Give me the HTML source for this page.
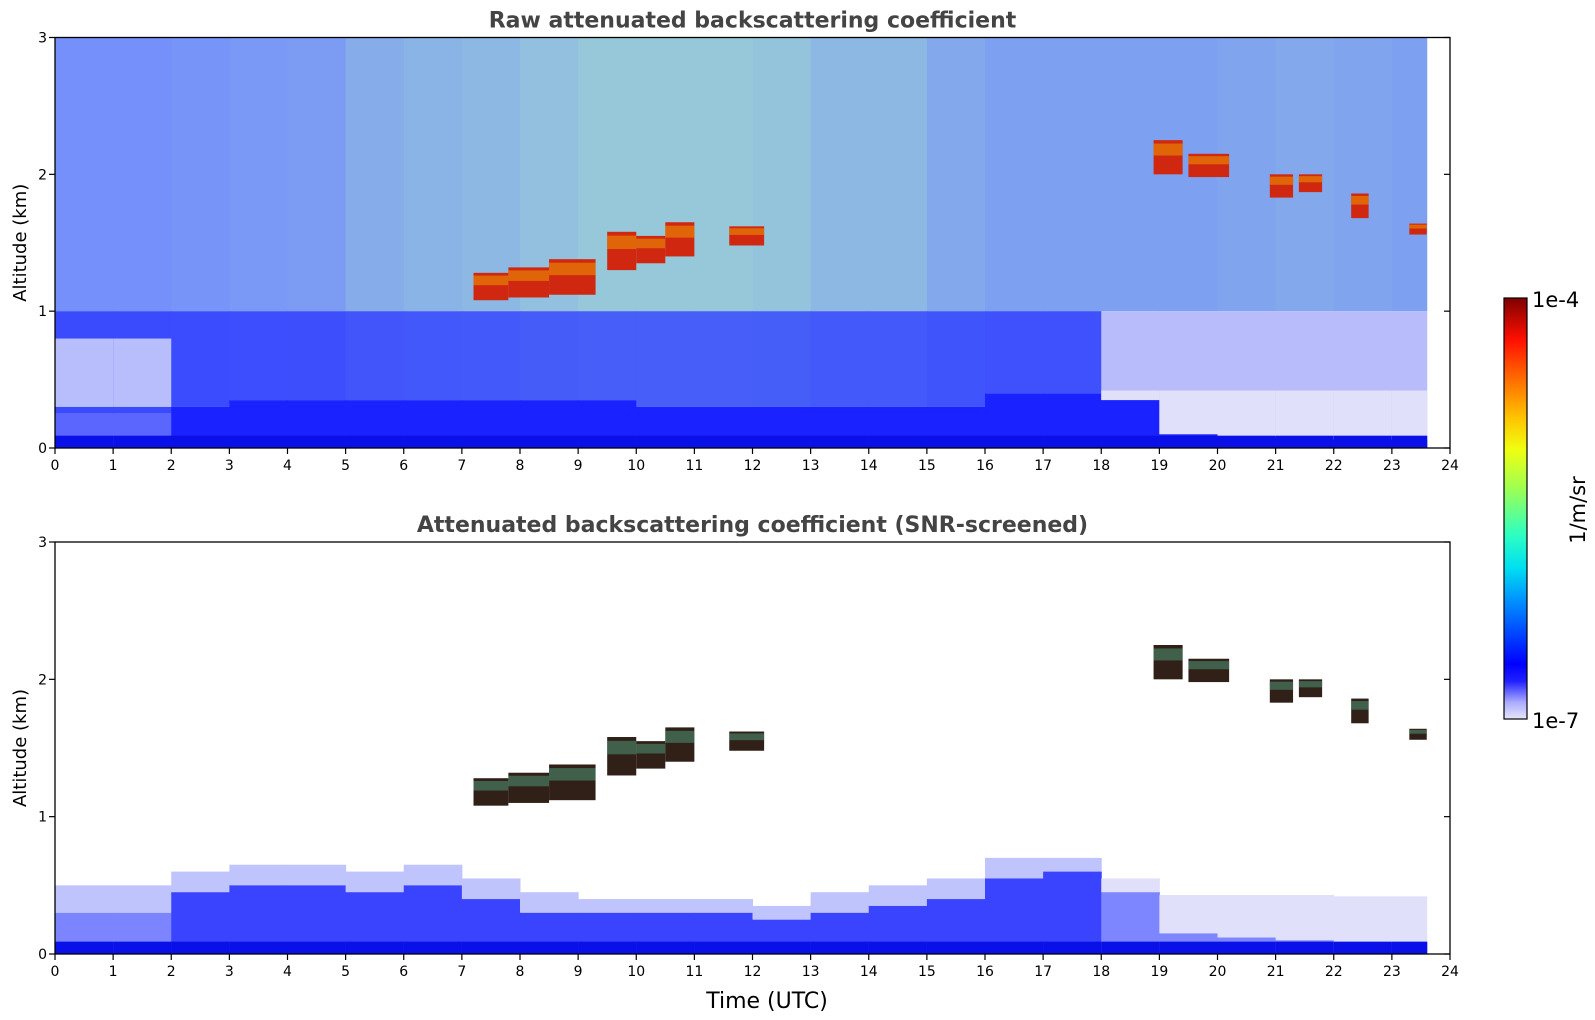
<!DOCTYPE html>
<html><head><meta charset="utf-8">
<style>
html,body{margin:0;padding:0;background:#fff;}
svg{display:block;font-family:"DejaVu Sans","Liberation Sans",sans-serif;}
</style></head>
<body>
<svg id="fig" width="1595" height="1020" viewBox="0 0 1595 1020" xmlns="http://www.w3.org/2000/svg">
<defs>
  <clipPath id="clipTop"><rect x="55" y="37.5" width="1395" height="410.5"/></clipPath>
  <clipPath id="clipBot"><rect x="55" y="542" width="1395" height="412"/></clipPath>
  <linearGradient id="cbGrad" x1="0" y1="1" x2="0" y2="0">
    <stop offset="0" stop-color="#e6e6fa"/>
    <stop offset="0.04" stop-color="#aaaaff"/>
    <stop offset="0.09" stop-color="#2020ff"/>
    <stop offset="0.13" stop-color="#0000ff"/>
    <stop offset="0.28" stop-color="#0090ff"/>
    <stop offset="0.36" stop-color="#00e0f0"/>
    <stop offset="0.44" stop-color="#30ffc0"/>
    <stop offset="0.55" stop-color="#a0ff50"/>
    <stop offset="0.64" stop-color="#f0ff10"/>
    <stop offset="0.72" stop-color="#ffc000"/>
    <stop offset="0.82" stop-color="#ff6000"/>
    <stop offset="0.9" stop-color="#ff1000"/>
    <stop offset="1" stop-color="#800000"/>
  </linearGradient>
</defs>
<g id="top"></g>
<g id="bot"></g>
<g id="cb">
  <rect x="1504" y="298" width="23" height="421" fill="url(#cbGrad)" stroke="#000" stroke-width="1.2"/>
  <text x="1532" y="307" font-size="21">1e-4</text>
  <text x="1532" y="728" font-size="21">1e-7</text>
  <text transform="translate(1585,510) rotate(-90)" text-anchor="middle" font-size="21">1/m/sr</text>
</g>
</svg>
<script>
// ---- data ----
const hours = [0,1,2,3,4,5,6,7,8,9,10,11,12,13,14,15,16,17,18,19,20,21,22,23];
const rawDenseTop = [0.25,0.25,0.3,0.35,0.35,0.35,0.35,0.35,0.35,0.35,0.3,0.3,0.3,0.3,0.3,0.3,0.4,0.4,0.35,0.1,0.08,0.08,0.06,0.06];
const rawUpperLevel = [0.1,0.1,0.15,0.2,0.25,0.45,0.55,0.6,0.7,0.8,0.8,0.8,0.75,0.6,0.6,0.4,0.3,0.3,0.3,0.3,0.35,0.4,0.35,0.3];
const blTop = [0.3,0.3,0.45,0.5,0.5,0.45,0.5,0.4,0.3,0.3,0.3,0.3,0.25,0.3,0.35,0.4,0.55,0.6,0.45,0.15,0.12,0.1,0.08,0.08];
const fringeTop = [0.5,0.5,0.6,0.65,0.65,0.6,0.65,0.55,0.45,0.4,0.4,0.4,0.35,0.45,0.5,0.55,0.7,0.7,0.55,0.43,0.43,0.43,0.42,0.42];
const cloudStart = [7.2,7.8,8.5,9.5,10.0,10.5,11.6,18.9,19.5,20.9,21.4,22.3,23.3];
const cloudEnd   = [7.8,8.5,9.3,10.0,10.5,11.0,12.2,19.4,20.2,21.3,21.8,22.6,23.6];
const cloudBase  = [1.08,1.1,1.12,1.3,1.35,1.4,1.48,2.0,1.98,1.83,1.87,1.68,1.56];
const cloudTopA  = [1.28,1.32,1.38,1.58,1.55,1.65,1.62,2.25,2.15,2.0,2.0,1.86,1.64];
const xTicks = [0,1,2,3,4,5,6,7,8,9,10,11,12,13,14,15,16,17,18,19,20,21,22,23,24];
const yTicks = [0,1,2,3];
const dataEnd = 23.6;

const NS = 'http://www.w3.org/2000/svg';
const X0 = 55, X1 = 1450;
const xs = h => X0 + (X1 - X0) * h / 24;
function mk(parent, tag, attrs){ const e=document.createElementNS(NS,tag); for(const k in attrs) e.setAttribute(k,attrs[k]); parent.appendChild(e); return e; }
function mix(a,b,t){ const p=s=>[1,3,5].map(i=>parseInt(s.substr(i,2),16)); const A=p(a),B=p(b); return 'rgb('+A.map((v,i)=>Math.round(v+(B[i]-v)*t)).join(',')+')'; }

function panel(gid, yTop, yBot, clip, title, raw){
  const g = document.getElementById(gid);
  const ys = km => yBot - (yBot - yTop) * km / 3;
  const data = mk(g,'g',{'clip-path':'url(#'+clip+')'});
  
  
  hours.forEach((h,i)=>{
    const x = xs(h), w = xs(Math.min(h+1,dataEnd)) - x + 0.5;
    if (h >= dataEnd) return;
    if (raw){
      const up = rawUpperLevel[i];
      const topCol = mix('#7088ff','#a0d8d0',up);
      const midCol = mix('#3848ff','#5878f0',up*0.6);
      let r = mk(data,'rect',{x:x,y:ys(3),width:w,height:ys(1)-ys(3),fill:topCol});
      
      
      r = mk(data,'rect',{x:x,y:ys(1),width:w,height:ys(rawDenseTop[i])-ys(1),fill:h>=18?'#b8bcfb':midCol});
      
      
      if (h>=18){
        r = mk(data,'rect',{x:x,y:ys(0.42),width:w,height:ys(rawDenseTop[i])-ys(0.42),fill:'#e0e0fa'});
        
        
      }
      if (h<2){
        r = mk(data,'rect',{x:x,y:ys(0.8),width:w,height:ys(0.3)-ys(0.8),fill:'#b8befc'});
        
        
      }
      r = mk(data,'rect',{x:x,y:ys(rawDenseTop[i]),width:w,height:ys(0)-ys(rawDenseTop[i]),fill:h<2?'#5a66ff':'#1a22ff'});
      
      
    } else {
      let r = mk(data,'rect',{x:x,y:ys(fringeTop[i]),width:w,height:ys(blTop[i])-ys(fringeTop[i]),fill:h>=18?'#e0e0fa':'#c0c4fc'});
      
      
      r = mk(data,'rect',{x:x,y:ys(blTop[i]),width:w,height:ys(0)-ys(blTop[i]),fill:h>=18?'#7d85ff':(h<2?'#7c84ff':'#3a44ff')});
      
      
    }
    const r2 = mk(data,'rect',{x:x,y:ys(0.09),width:w,height:ys(0)-ys(0.09),fill:'#0a10e8'});
    
    
  });
  cloudStart.forEach((s,i)=>{
    const x=xs(s), w=xs(cloudEnd[i])-x;
    const y=ys(cloudTopA[i]), hgt=ys(cloudBase[i])-y;
    const c = mk(data,'rect',{x:x,y:y,width:w,height:hgt,fill:raw?'#d02810':'#302018'});
    
    
    const c2 = mk(data,'rect',{x:x,y:y+hgt*0.1,width:w,height:hgt*0.35,fill:raw?'#f0a000':'#50a080',opacity:0.5});
    
    
  });
  const f = mk(g,'rect',{x:X0,y:yTop,width:X1-X0,height:yBot-yTop,fill:'none',stroke:'#000','stroke-width':1.3});
  
  
  xTicks.forEach(t=>{
    const l = mk(g,'line',{x1:xs(t),x2:xs(t),y1:yBot,y2:yBot+6,stroke:'#000','stroke-width':1.2});
    
    
    const tx = mk(g,'text',{x:xs(t),y:yBot+22,'text-anchor':'middle','font-size':14});
    tx.textContent = t;
    
    
  });
  yTicks.forEach(t=>{
    const l = mk(g,'line',{x1:X0-6,x2:X0,y1:ys(t),y2:ys(t),stroke:'#000','stroke-width':1.2});
    
    
    const l2 = mk(g,'line',{x1:X1-6,x2:X1,y1:ys(t),y2:ys(t),stroke:'#000','stroke-width':1.2});
    
    
    const tx = mk(g,'text',{x:X0-8,y:ys(t)+5,'text-anchor':'end','font-size':14});
    tx.textContent = t;
    
    
  });
  const yl = mk(g,'text',{transform:'translate(26,'+((yTop+yBot)/2)+') rotate(-90)','text-anchor':'middle','font-size':18});
  yl.textContent = 'Altitude (km)';
  
  
  const tt = mk(g,'text',{x:(X0+X1)/2,y:yTop-10,'text-anchor':'middle','font-size':22,'font-weight':'bold',fill:'#444'});
  tt.textContent = title;
  
  
}
panel('top',37.5,448,'clipTop','Raw attenuated backscattering coefficient',true);
panel('bot',542,954,'clipBot','Attenuated backscattering coefficient (SNR-screened)',false);
const xt = mk(document.getElementById('bot'),'text',{x:xs(12.25),y:1008,'text-anchor':'middle','font-size':22});
xt.textContent = 'Time (UTC)';


</script>
</body></html>
